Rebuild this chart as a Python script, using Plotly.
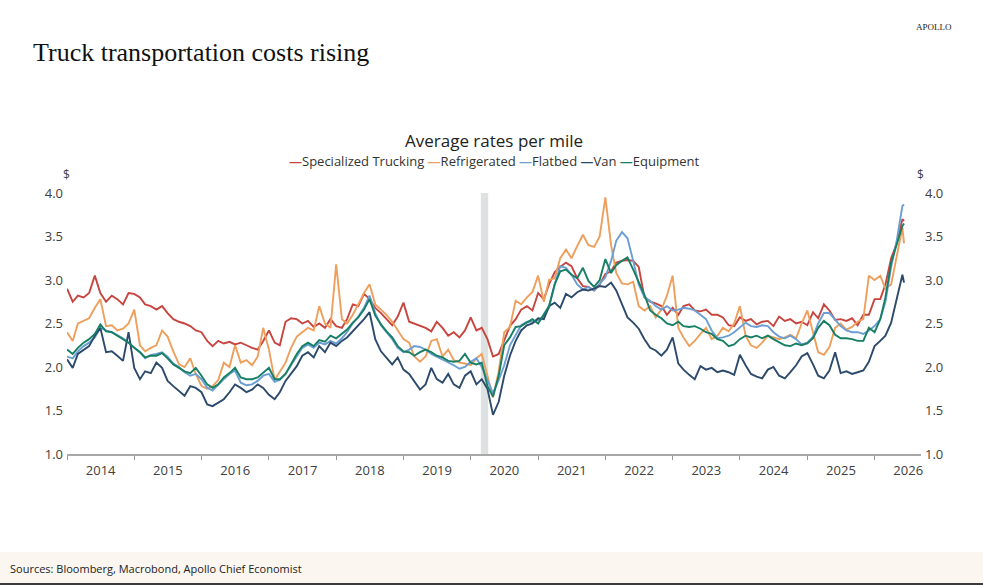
import pandas as pd
import plotly.graph_objects as go

# monthly readings Jan 2014 .. Jun 2026, plus the last weekly print
dates = list(pd.date_range("2014-01-01", "2026-06-01", freq="MS")) + [pd.Timestamp("2026-06-10")]

specialized = [
    2.90, 2.75, 2.82, 2.80, 2.85, 3.05, 2.85, 2.75, 2.82, 2.78, 2.72, 2.85,
    2.84, 2.80, 2.72, 2.70, 2.66, 2.70, 2.62, 2.55, 2.52, 2.50, 2.47, 2.42,
    2.40, 2.30, 2.24, 2.30, 2.27, 2.29, 2.26, 2.28, 2.25, 2.22, 2.20, 2.30,
    2.42, 2.28, 2.25, 2.52, 2.56, 2.55, 2.50, 2.53, 2.46, 2.50, 2.45, 2.55,
    2.47, 2.45, 2.55, 2.72, 2.70, 2.84, 2.78, 2.68, 2.62, 2.55, 2.48, 2.58,
    2.74, 2.52, 2.50, 2.48, 2.45, 2.41, 2.52, 2.45, 2.36, 2.40, 2.34, 2.42,
    2.57, 2.42, 2.45, 2.32, 2.12, 2.15, 2.30, 2.47, 2.55, 2.66, 2.70, 2.65,
    2.85, 2.78, 2.95, 3.09, 3.15, 3.20, 3.16, 3.02, 2.93, 2.92, 2.88, 2.95,
    3.07, 3.10, 3.20, 3.22, 3.23, 3.22, 3.15, 2.80, 2.75, 2.73, 2.70, 2.60,
    2.68, 2.60, 2.70, 2.72, 2.65, 2.64, 2.66, 2.60, 2.60, 2.57, 2.48, 2.47,
    2.57, 2.53, 2.55, 2.49, 2.52, 2.53, 2.47, 2.58, 2.53, 2.55, 2.50, 2.52,
    2.48, 2.63, 2.56, 2.72, 2.65, 2.54, 2.55, 2.53, 2.56, 2.48, 2.60, 2.60,
    2.78, 2.78, 2.95, 3.25, 3.42, 3.70, 3.68,
]
refrigerated = [
    2.40, 2.30, 2.50, 2.53, 2.56, 2.68, 2.78, 2.47, 2.48, 2.42, 2.44, 2.50,
    2.66, 2.25, 2.18, 2.22, 2.25, 2.42, 2.35, 2.18, 2.03, 2.00, 2.10, 1.92,
    1.78, 1.75, 1.78, 1.85, 2.05, 2.00, 2.25, 2.05, 2.08, 2.02, 2.12, 2.45,
    2.20, 1.85, 1.95, 2.05, 2.22, 2.35, 2.40, 2.45, 2.42, 2.70, 2.50, 2.45,
    3.18, 2.55, 2.50, 2.60, 2.72, 2.85, 2.95, 2.72, 2.66, 2.60, 2.52, 2.42,
    2.32, 2.28, 2.12, 2.06, 2.12, 2.30, 2.32, 2.12, 2.20, 2.08, 2.05, 2.04,
    2.02, 2.10, 2.15, 1.90, 1.65, 1.95, 2.40, 2.46, 2.76, 2.72, 2.80, 2.86,
    3.05, 2.75, 3.00, 3.02, 3.25, 3.35, 3.25, 3.39, 3.52, 3.40, 3.38, 3.50,
    3.95, 3.40, 3.08, 2.96, 2.95, 2.98, 2.70, 2.65, 2.70, 2.57, 2.66, 2.82,
    3.05, 2.45, 2.34, 2.24, 2.30, 2.38, 2.45, 2.32, 2.36, 2.45, 2.41, 2.50,
    2.70, 2.36, 2.25, 2.22, 2.28, 2.36, 2.34, 2.32, 2.34, 2.37, 2.33, 2.50,
    2.65, 2.40, 2.17, 2.14, 2.23, 2.45, 2.50, 2.43, 2.46, 2.52, 2.55, 3.05,
    3.00, 3.05, 2.90, 2.95, 3.26, 3.60, 3.42,
]
flatbed = [
    2.12, 2.10, 2.18, 2.24, 2.28, 2.34, 2.45, 2.42, 2.40, 2.37, 2.33, 2.28,
    2.22, 2.17, 2.10, 2.14, 2.15, 2.17, 2.12, 2.04, 2.00, 1.94, 1.90, 1.92,
    1.86, 1.76, 1.73, 1.80, 1.86, 1.92, 1.96, 1.82, 1.79, 1.80, 1.84, 1.90,
    1.92, 1.83, 1.85, 1.92, 2.02, 2.12, 2.22, 2.26, 2.22, 2.28, 2.26, 2.30,
    2.27, 2.33, 2.40, 2.50, 2.58, 2.68, 2.82, 2.62, 2.48, 2.40, 2.32, 2.22,
    2.17, 2.20, 2.24, 2.23, 2.20, 2.15, 2.12, 2.08, 2.05, 2.02, 1.98, 2.00,
    2.06, 2.10, 2.00, 1.85, 1.70, 1.85, 2.02, 2.25, 2.36, 2.48, 2.52, 2.52,
    2.54, 2.58, 2.68, 2.95, 3.16, 3.14, 3.06, 2.95, 2.89, 2.92, 2.88, 2.95,
    3.03, 3.22, 3.45, 3.55, 3.48, 3.22, 2.95, 2.80, 2.76, 2.70, 2.66, 2.70,
    2.65, 2.66, 2.68, 2.67, 2.65, 2.60, 2.55, 2.42, 2.33, 2.34, 2.36, 2.40,
    2.45, 2.51, 2.47, 2.46, 2.48, 2.47, 2.40, 2.35, 2.33, 2.36, 2.32, 2.26,
    2.28, 2.35, 2.50, 2.62, 2.62, 2.55, 2.47, 2.42, 2.40, 2.40, 2.38, 2.42,
    2.47, 2.55, 2.75, 3.15, 3.45, 3.85, 3.87,
]
van = [
    2.09, 1.99, 2.15, 2.20, 2.24, 2.36, 2.45, 2.17, 2.18, 2.13, 2.07, 2.40,
    1.99, 1.86, 1.95, 1.93, 2.05, 1.99, 1.84, 1.78, 1.72, 1.67, 1.78, 1.76,
    1.71, 1.57, 1.55, 1.59, 1.63, 1.71, 1.80, 1.76, 1.71, 1.74, 1.80, 1.76,
    1.68, 1.63, 1.71, 1.84, 1.93, 2.01, 2.13, 2.17, 2.11, 2.24, 2.17, 2.28,
    2.24, 2.30, 2.34, 2.41, 2.47, 2.55, 2.63, 2.32, 2.18, 2.11, 2.03, 2.11,
    1.97, 1.92, 1.84, 1.74, 1.80, 1.99, 1.86, 1.82, 1.92, 1.80, 1.76, 1.90,
    1.95, 1.80, 1.86, 1.75, 1.45, 1.60, 1.90, 2.13, 2.30, 2.42, 2.48, 2.50,
    2.56, 2.55, 2.70, 2.74, 2.68, 2.84, 2.80, 2.86, 2.89, 2.88, 2.90, 2.93,
    2.92, 2.97, 2.88, 2.72, 2.57, 2.51, 2.44, 2.32, 2.22, 2.19, 2.13, 2.20,
    2.34, 2.04, 1.97, 1.91, 1.86, 2.01, 1.97, 1.99, 1.94, 1.96, 1.94, 1.91,
    2.14, 2.02, 1.92, 1.89, 1.87, 1.97, 2.00, 1.90, 1.87, 1.94, 2.02, 2.12,
    2.16, 2.03, 1.90, 1.87, 1.96, 2.17, 1.93, 1.95, 1.92, 1.94, 1.96, 2.06,
    2.24, 2.30, 2.36, 2.51, 2.78, 3.06, 2.97,
]
equipment = [
    2.20, 2.15, 2.22, 2.28, 2.32, 2.38, 2.49, 2.41, 2.40, 2.36, 2.32, 2.28,
    2.22, 2.17, 2.11, 2.13, 2.13, 2.16, 2.10, 2.03, 1.99, 1.95, 1.93, 1.99,
    1.90, 1.80, 1.76, 1.80, 1.88, 1.93, 1.99, 1.88, 1.86, 1.86, 1.88, 1.93,
    1.99, 1.86, 1.86, 1.92, 2.03, 2.15, 2.24, 2.28, 2.24, 2.31, 2.29, 2.36,
    2.33, 2.38, 2.43, 2.51, 2.57, 2.66, 2.78, 2.59, 2.49, 2.41, 2.34, 2.24,
    2.18, 2.17, 2.13, 2.17, 2.20, 2.17, 2.13, 2.11, 2.07, 2.06, 2.07, 2.15,
    2.05, 2.03, 2.05, 1.78, 1.66, 1.90, 2.25, 2.34, 2.46, 2.47, 2.51, 2.55,
    2.50, 2.60, 2.70, 2.95, 3.10, 3.12, 3.06, 3.02, 3.14, 2.99, 2.92, 3.00,
    3.24, 3.08, 3.17, 3.22, 3.26, 3.12, 2.98, 2.83, 2.65, 2.60, 2.56, 2.50,
    2.48, 2.52, 2.47, 2.46, 2.47, 2.44, 2.40, 2.38, 2.32, 2.30, 2.24, 2.26,
    2.32, 2.36, 2.34, 2.36, 2.33, 2.36, 2.32, 2.28, 2.25, 2.24, 2.27, 2.25,
    2.27, 2.33, 2.45, 2.53, 2.48, 2.37, 2.33, 2.33, 2.32, 2.30, 2.30, 2.45,
    2.40, 2.55, 2.80, 3.20, 3.40, 3.62, 3.65,
]

names = ["Specialized Trucking", "Refrigerated", "Flatbed", "Van", "Equipment"]
colors = ["#C8453F", "#EE9F5C", "#6B9FD4", "#2C4A6B", "#167F64"]
series = [specialized, refrigerated, flatbed, van, equipment]
recession = ["2020-02-25", "2020-04-05"]

SANS = "Open Sans"
SERIF = "Liberation Serif"
INK = "#404040"

# plot box in page pixels, used to place the free text around it
L, R, T, B = 67, 921, 193, 454
def px(x): return (x - L) / (R - L)
def py(y): return (B - y) / (B - T)

fig = go.Figure()
for i, (name, col, vals) in enumerate(zip(names, colors, series)):
    # last series sits on the mirrored right axis so that one gets drawn too
    fig.add_trace(go.Scatter(x=dates, y=vals, name=name, mode="lines",
                             yaxis="y2" if i == len(names) - 1 else "y",
                             line=dict(color=col, width=1.9)))

fig.add_vrect(x0=recession[0], x1=recession[1], fillcolor="#DDE1E2",
              line_width=0, layer="below")

legend_txt = "".join(f"<span style='color:{c}'><b>—</b></span>{n} "
                     for n, c in zip(names, colors)).strip()

ann = [
    dict(text="Truck transportation costs rising", x=px(31), y=py(52), xanchor="left", yanchor="middle",
         font=dict(family=SERIF, size=26, color="#111")),
    dict(text="APOLLO", x=px(934), y=py(27), xanchor="center", yanchor="middle",
         font=dict(family=SERIF, size=9, color="#222")),
    dict(text="Average rates per mile", x=0.5, y=py(140), xanchor="center", yanchor="middle",
         font=dict(family=SANS, size=17, color="#222")),
    dict(text=legend_txt, x=0.5, y=py(161), xanchor="center", yanchor="middle",
         font=dict(family=SANS, size=13, color="#333")),
    dict(text="$", x=px(66), y=py(174), xanchor="center", yanchor="middle",
         font=dict(family=SANS, size=12, color=INK)),
    dict(text="$", x=px(920), y=py(174), xanchor="center", yanchor="middle",
         font=dict(family=SANS, size=12, color=INK)),
    dict(text="Sources: Bloomberg, Macrobond, Apollo Chief Economist", x=px(8), y=py(568),
         xanchor="left", yanchor="middle", font=dict(family=SANS, size=11, color="#222")),
]
for a in ann:
    a.update(xref="paper", yref="paper", showarrow=False)

shapes = [
    dict(type="rect", xref="paper", yref="paper", x0=px(0), x1=px(983), y0=py(552), y1=py(583),
         fillcolor="#FBF7F0", line_width=0, layer="below"),
    dict(type="rect", xref="paper", yref="paper", x0=px(0), x1=px(983), y0=py(583), y1=py(586),
         fillcolor="#3A3A3A", line_width=0, layer="below"),
]

yax = dict(range=[1, 4], dtick=0.5, tickformat=".1f", showgrid=False, zeroline=False,
           showline=False, ticklabelstandoff=3, tickfont=dict(size=13, color=INK))

fig.update_layout(
    width=983, height=585,
    margin=dict(l=L, r=983 - R, t=T, b=585 - B),
    paper_bgcolor="white", plot_bgcolor="white",
    showlegend=False,
    font=dict(family=SANS, size=12, color=INK),
    annotations=ann,
    shapes=list(fig.layout.shapes) + shapes,
    xaxis=dict(type="date", range=["2014-01-01", "2026-09-10"],
               tick0="2014-01-01", dtick="M12", tickformat="%Y", ticklabelmode="period",
               ticks="outside", ticklen=4, tickcolor="#9A9A9A",
               showline=True, linecolor="#A8A8A8", linewidth=1.5,
               showgrid=False, zeroline=False, tickfont=dict(size=13, color=INK)),
    yaxis=yax,
    yaxis2=dict(yax, overlaying="y", side="right"),
)

fig.write_html("out.html", config={"displayModeBar": False},
               post_script="document.body.style.margin='0';")
